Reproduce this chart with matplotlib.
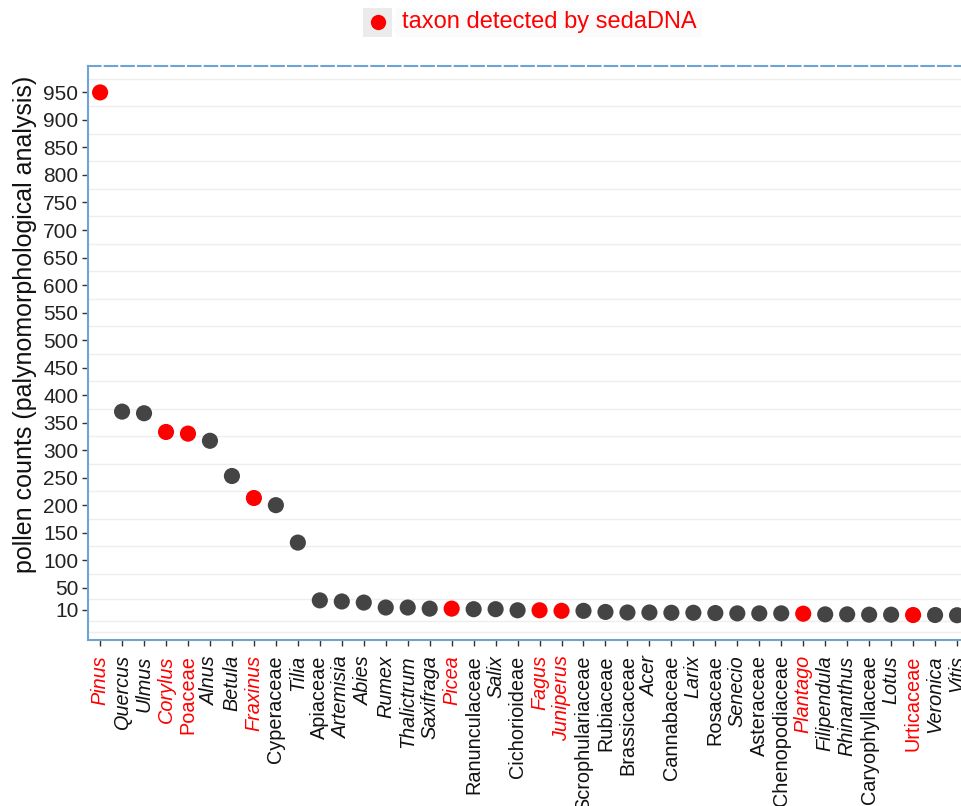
import matplotlib.pyplot as plt
from matplotlib.lines import Line2D
from matplotlib.patches import Rectangle

plt.rcParams['font.family'] = ['Liberation Sans', 'DejaVu Sans']

# taxa ordered by pollen counts
taxa = ['Pinus', 'Quercus', 'Ulmus', 'Corylus', 'Poaceae', 'Alnus', 'Betula', 'Fraxinus',
        'Cyperaceae', 'Tilia', 'Apiaceae', 'Artemisia', 'Abies', 'Rumex', 'Thalictrum',
        'Saxifraga', 'Picea', 'Ranunculaceae', 'Salix', 'Cichorioideae', 'Fagus', 'Juniperus',
        'Scrophulariaceae', 'Rubiaceae', 'Brassicaceae', 'Acer', 'Cannabaceae', 'Larix',
        'Rosaceae', 'Senecio', 'Asteraceae', 'Chenopodiaceae', 'Plantago', 'Filipendula',
        'Rhinanthus', 'Caryophyllaceae', 'Lotus', 'Urticaceae', 'Veronica', 'Vitis']
counts = [950, 370, 367, 333, 330, 317, 253, 213, 200, 132, 27, 25, 23, 14, 14,
          12, 12, 11, 11, 9, 9, 8, 8, 6, 5, 5, 4.5, 4.5, 4, 3.4, 3.4, 3.4, 2.8, 1.6,
          1.6, 1, 1, 0.4, 0.4, 0]
detected = ['Pinus', 'Corylus', 'Poaceae', 'Fraxinus', 'Picea', 'Fagus', 'Juniperus',
            'Plantago', 'Urticaceae']
# genera are written in italics, families upright
upright = ['Poaceae', 'Cyperaceae', 'Apiaceae', 'Ranunculaceae', 'Cichorioideae',
           'Scrophulariaceae', 'Rubiaceae', 'Brassicaceae', 'Cannabaceae', 'Rosaceae',
           'Asteraceae', 'Chenopodiaceae', 'Caryophyllaceae', 'Urticaceae']
yticks = [10] + list(range(50, 951, 50))
ygrid = [-30, -10, 30] + list(range(75, 1000, 50))

red = '#FF0000'
grey = '#444444'
blue = '#6FA3D3'

fig = plt.figure(figsize=(9.61, 8.06), dpi=100)
ax = fig.add_axes([88 / 961, 166 / 806, 873 / 961, 574 / 806])

x = list(range(len(taxa)))
colors = [red if t in detected else grey for t in taxa]
ax.scatter(x, counts, s=135, c=colors, linewidths=0, zorder=3)

ax.set_xlim(-0.55, 39.18)
ax.set_ylim(-45, 998)

ax.set_yticks(yticks)
ax.set_yticks(ygrid, minor=True)
ax.tick_params(axis='y', which='minor', length=0)
ax.grid(True, which='minor', axis='y', color='#EEEEEE', linewidth=1)
ax.tick_params(axis='both', which='major', length=4, width=1, color='#333333',
               labelcolor='#222222')
ax.tick_params(axis='y', pad=3, labelsize=15)
ax.tick_params(axis='x', pad=7, labelsize=14.3)

ax.set_xticks(x)
ax.set_xticklabels(taxa, rotation=90)
for lab, t in zip(ax.get_xticklabels(), taxa):
    lab.set_color(red if t in detected else '#111111')
    lab.set_style('normal' if t in upright else 'italic')

ax.spines['right'].set_visible(False)
for side in ['left', 'bottom', 'top']:
    ax.spines[side].set_color(blue)
    ax.spines[side].set_linewidth(1.5)
ax.spines['top'].set_linestyle((0, (6, 2)))

ax.set_ylabel('pollen counts (palynomorphological analysis)', fontsize=18,
              color='#111111')
ax.yaxis.set_label_coords(-0.058, 0.55)

# legend at the top
fig.patches.append(Rectangle((363 / 961, 1 - 37 / 806), 29 / 961, 29 / 806,
                             transform=fig.transFigure, facecolor='#EBEBEB',
                             edgecolor='none'))
fig.patches.append(Rectangle((396 / 961, 1 - 37 / 806), 306 / 961, 29 / 806,
                             transform=fig.transFigure, facecolor='#FBFBFB',
                             edgecolor='none'))
fig.lines.append(Line2D([378 / 961], [1 - 22 / 806], transform=fig.transFigure,
                        marker='o', markersize=11, color=red, markeredgewidth=0))
fig.text(402 / 961, 1 - 22 / 806, 'taxon detected by sedaDNA', color=red,
         fontsize=17, va='center', ha='left')

fig.savefig('out.png', dpi=100)
